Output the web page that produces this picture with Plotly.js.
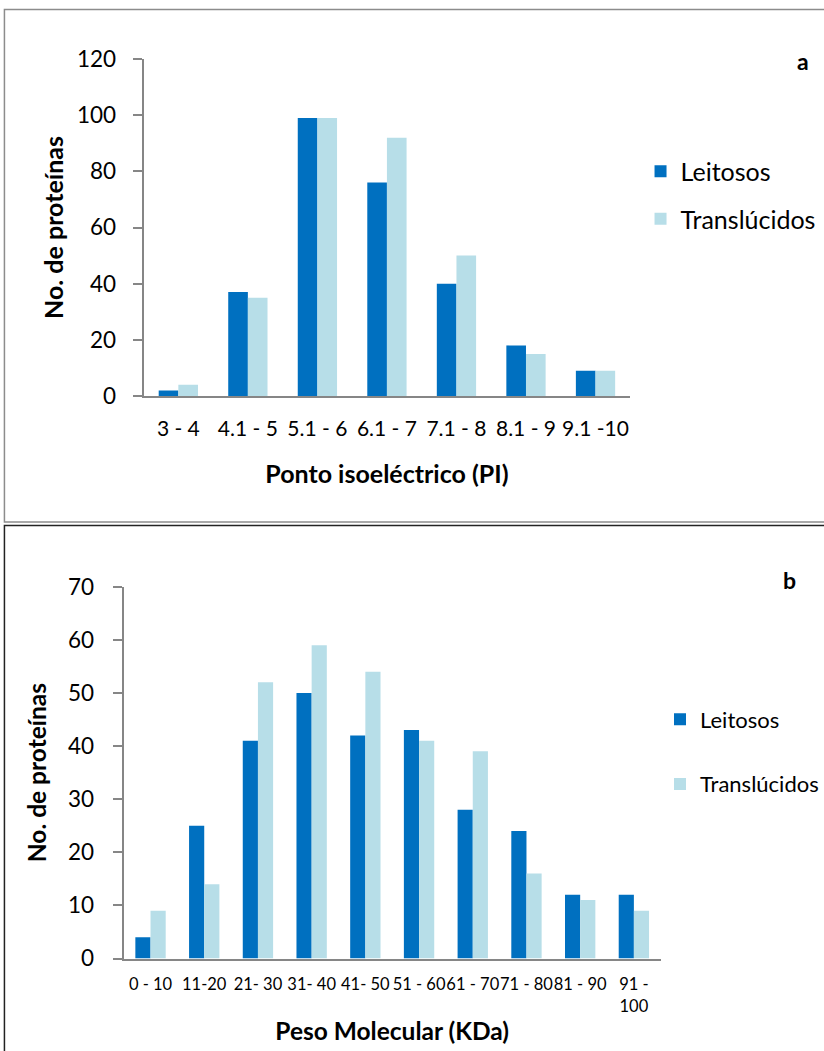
<!DOCTYPE html>
<html>
<head>
<meta charset="utf-8">
<script src="https://cdn.plot.ly/plotly-3.0.1.min.js"></script>
<style>html,body{margin:0;padding:0;background:#fff}#chart{width:824px;height:1051px}</style>
</head>
<body>
<div id="chart"></div>
<script>
// Panel a: isoelectric point
const piCategories = ["3 - 4", "4.1 - 5", "5.1 - 6", "6.1 - 7", "7.1 - 8", "8.1 - 9", "9.1 -10"];
const piLeitosos = [2, 37, 99, 76, 40, 18, 9];
const piTranslucidos = [4, 35, 99, 92, 50, 15, 9];

// Panel b: molecular weight
const mwCategories = ["0 - 10", "11-20", "21- 30", "31- 40", "41- 50", "51 - 60", "61 - 70", "71 - 80", "81 - 90", "91 -<br>100"];
const mwLeitosos = [4, 25, 41, 50, 42, 43, 28, 24, 12, 12];
const mwTranslucidos = [9, 14, 52, 59, 54, 41, 39, 16, 11, 9];

const seriesNames = ["Leitosos", "Translúcidos"];
const colLeit = "#0070C0";
const colTrans = "#B7DEE8";
const FONT = "Lato, 'Open Sans', sans-serif";

const W = 824, H = 1051;
const px = v => v / W;
const py = v => 1 - v / H;

const traces = [
  {type: "bar", x: piCategories, y: piLeitosos, name: seriesNames[0], marker: {color: colLeit},
   xaxis: "x", yaxis: "y", legend: "legend", legendgroup: "a1", hoverinfo: "skip"},
  {type: "bar", x: piCategories, y: piTranslucidos, name: seriesNames[1], marker: {color: colTrans},
   xaxis: "x", yaxis: "y", legend: "legend", legendgroup: "a2", hoverinfo: "skip"},
  {type: "bar", x: mwCategories, y: mwLeitosos, name: seriesNames[0], marker: {color: colLeit},
   xaxis: "x2", yaxis: "y2", legend: "legend2", legendgroup: "b1", hoverinfo: "skip"},
  {type: "bar", x: mwCategories, y: mwTranslucidos, name: seriesNames[1], marker: {color: colTrans},
   xaxis: "x2", yaxis: "y2", legend: "legend2", legendgroup: "b2", hoverinfo: "skip"}
];

const axisLine = "#868686";

const layout = {
  width: W, height: H,
  margin: {l: 0, r: 0, t: 0, b: 0},
  paper_bgcolor: "#fff", plot_bgcolor: "#fff",
  font: {family: FONT, color: "#000"},
  barmode: "group",
  bargap: 0.435,
  bargroupgap: 0,
  showlegend: true,
  xaxis: {
    domain: [px(145.7), px(639.6)], anchor: "y",
    showline: true, linecolor: axisLine, linewidth: 2, ticks: "",
    tickfont: {size: 21, family: FONT}, tickangle: 0, ticklabelstandoff: 13,
    title: {text: "<b>Ponto isoeléctrico (PI)</b>", font: {size: 25, family: FONT}, standoff: 26},
    fixedrange: true
  },
  yaxis: {
    domain: [py(396), py(59)], anchor: "x",
    range: [0, 120], dtick: 20,
    showline: true, linecolor: axisLine, linewidth: 2,
    ticks: "outside", ticklen: 9, tickcolor: axisLine, tickwidth: 2,
    ticklabelstandoff: 12,
    showgrid: false, zeroline: false,
    tickfont: {size: 22.5, family: FONT},
    title: {text: "<b>No. de proteínas</b>", font: {size: 25, family: FONT}, standoff: 6},
    fixedrange: true
  },
  xaxis2: {
    domain: [px(125.5), px(670.5)], anchor: "y2",
    showline: true, linecolor: axisLine, linewidth: 2, ticks: "",
    tickfont: {size: 16.5, family: FONT}, tickangle: 0, ticklabelstandoff: 10,
    title: {text: "<b>Peso Molecular (KDa)</b>", font: {size: 24.5, family: FONT}, standoff: 8},
    fixedrange: true
  },
  yaxis2: {
    domain: [py(958.5), py(586.7)], anchor: "x2",
    range: [0, 70], dtick: 10,
    showline: true, linecolor: axisLine, linewidth: 2,
    ticks: "outside", ticklen: 9, tickcolor: axisLine, tickwidth: 2,
    ticklabelstandoff: 14,
    showgrid: false, zeroline: false,
    tickfont: {size: 22.5, family: FONT},
    title: {text: "<b>No. de proteínas</b>", font: {size: 24.5, family: FONT}, standoff: 14},
    fixedrange: true
  },
  legend: {
    x: px(650), y: py(148.5), xanchor: "left", yanchor: "top",
    font: {size: 25, family: FONT},
    traceorder: "grouped", tracegroupgap: 12,
    bgcolor: "rgba(0,0,0,0)", itemwidth: 30
  },
  legend2: {
    x: px(670), y: py(698.5), xanchor: "left", yanchor: "top",
    font: {size: 22, family: FONT},
    traceorder: "grouped", tracegroupgap: 33,
    bgcolor: "rgba(0,0,0,0)", itemwidth: 30
  },
  annotations: [
    {text: "<b>a</b>", x: px(815), y: py(61), xref: "paper", yref: "paper", xanchor: "center", yanchor: "middle",
     showarrow: false, font: {size: 23, family: FONT}},
    {text: "<b>b</b>", x: px(801), y: py(580), xref: "paper", yref: "paper", xanchor: "center", yanchor: "middle",
     showarrow: false, font: {size: 23, family: FONT}}
  ],
  shapes: [
    {type: "rect", xref: "paper", yref: "paper", x0: px(4.5), x1: px(840), y0: py(522), y1: py(9.5),
     line: {color: "#8c8c8c", width: 1.5}, fillcolor: "rgba(0,0,0,0)"},
    {type: "rect", xref: "paper", yref: "paper", x0: px(4.5), x1: px(840), y0: py(1070), y1: py(525.5),
     line: {color: "#222", width: 1.5}, fillcolor: "rgba(0,0,0,0)"}
  ]
};

Plotly.newPlot("chart", traces, layout, {staticPlot: true, displayModeBar: false});
</script>
</body>
</html>
